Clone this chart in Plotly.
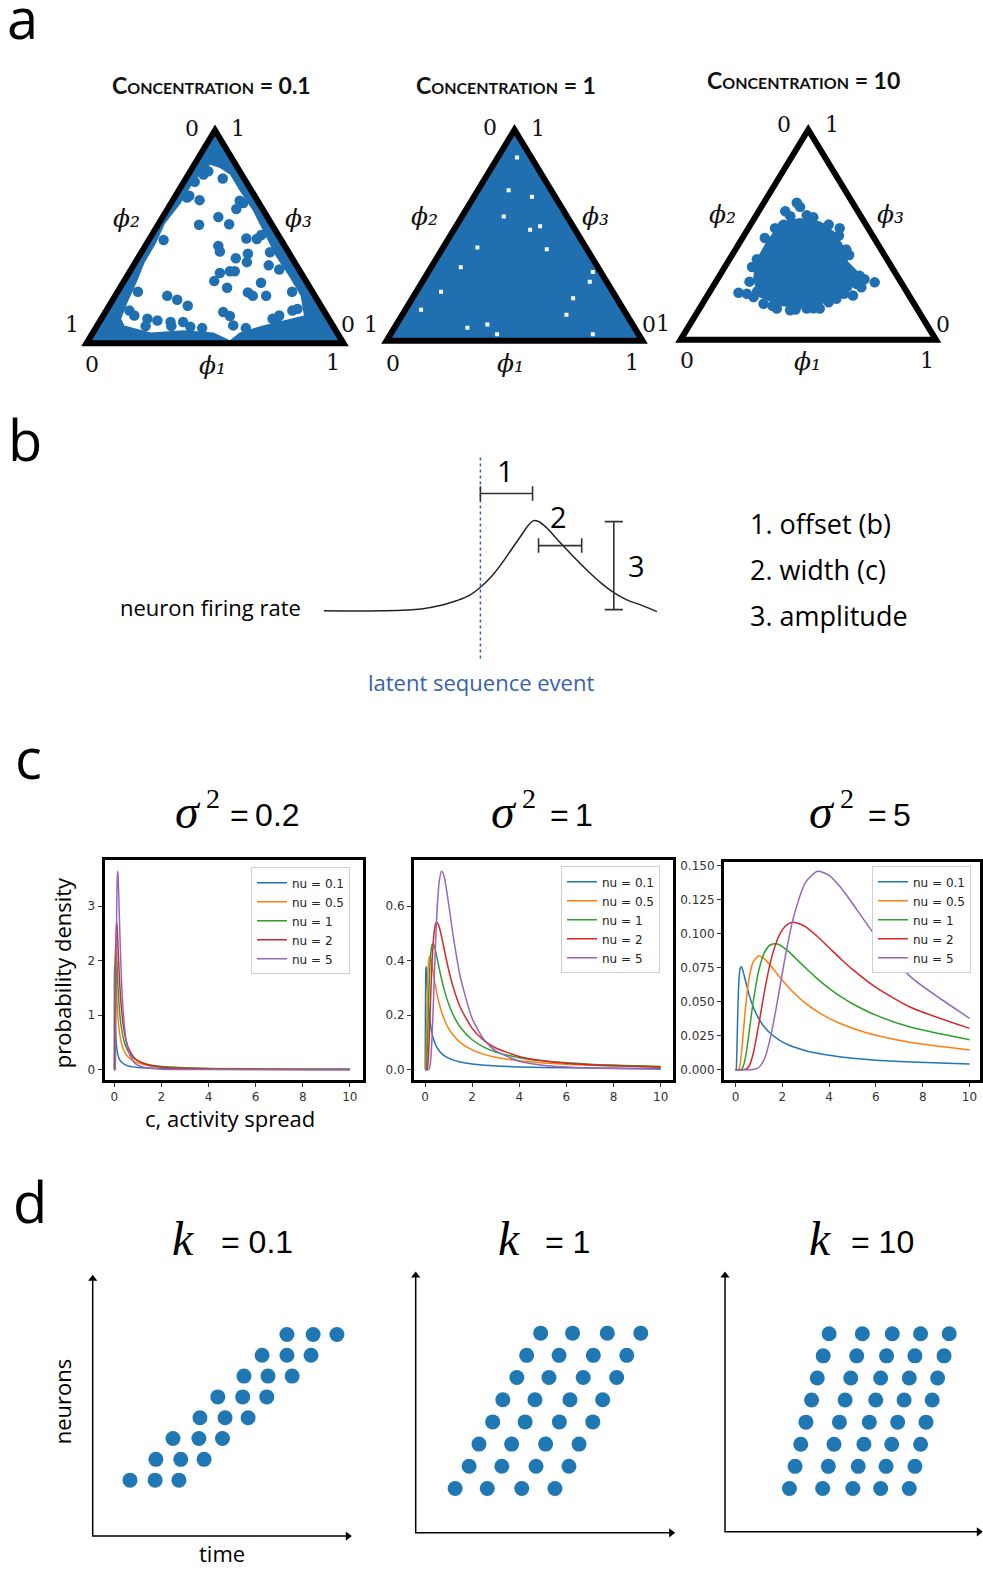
import plotly.graph_objects as go

W, H = 983, 1573

# ======================= DATA =======================
# (a) Dirichlet samples on the 2-simplex, in projected coordinates
#     x = phi1 + phi3/2 ,  y = phi3 * 0.866
SIMPLEX_X = [0.0, 1.0, 0.5]
SIMPLEX_Y = [0.0, 0.0, 0.866]
CONC_LABELS = ["0.1", "1", "10"]

# concentration = 0.1 : samples pile up along edges/corners; region left empty
conc01_empty_x = [0.147, 0.25, 0.378, 0.494, 0.558, 0.596, 0.686, 0.788, 0.846, 0.833, 0.788, 0.737, 0.699, 0.647,
                  0.596, 0.558, 0.519, 0.481, 0.442, 0.41, 0.365, 0.305, 0.27, 0.225, 0.195, 0.160, 0.135]
conc01_empty_y = [0.073, 0.044, 0.053, 0.044, 0.013, 0.044, 0.073, 0.100, 0.113, 0.193, 0.273, 0.353, 0.433, 0.540,
                  0.620, 0.686, 0.713, 0.726, 0.686, 0.646, 0.566, 0.486, 0.406, 0.326, 0.247, 0.167, 0.100]
conc01_x = [0.438, 0.513, 0.555, 0.583, 0.622, 0.663, 0.513, 0.519, 0.581, 0.628, 0.624, 0.709, 0.714, 0.519, 0.558,
            0.577, 0.497, 0.547, 0.628, 0.647, 0.314, 0.353, 0.394, 0.532, 0.558, 0.571, 0.376, 0.404, 0.440, 0.455,
            0.474, 0.421, 0.391, 0.596, 0.167, 0.186, 0.237, 0.276, 0.327, 0.724, 0.750, 0.801, 0.821, 0.679, 0.699,
            0.23, 0.33, 0.45, 0.62, 0.74, 0.80, 0.75, 0.68, 0.61, 0.20, 0.30, 0.40, 0.53]
conc01_y = [0.482, 0.513, 0.484, 0.546, 0.426, 0.424, 0.396, 0.373, 0.346, 0.364, 0.330, 0.317, 0.370, 0.286, 0.293,
            0.293, 0.253, 0.226, 0.207, 0.193, 0.193, 0.177, 0.153, 0.127, 0.111, 0.073, 0.087, 0.067, 0.582, 0.686,
            0.699, 0.657, 0.593, 0.580, 0.133, 0.113, 0.100, 0.093, 0.087, 0.100, 0.113, 0.133, 0.140, 0.246, 0.193,
            0.070, 0.070, 0.062, 0.062, 0.100, 0.210, 0.300, 0.440, 0.570, 0.210, 0.420, 0.600, 0.670]

# concentration = 1 : uniform coverage, small uncovered gaps
conc1_gap_x = [0.458, 0.568, 0.355, 0.135, 0.316, 0.806, 0.729, 0.561, 0.600, 0.703, 0.806, 0.290, 0.477, 0.394,
               0.626, 0.213, 0.794, 0.510, 0.432]
conc1_gap_y = [0.510, 0.591, 0.383, 0.128, 0.054, 0.282, 0.175, 0.456, 0.470, 0.107, 0.027, 0.302, 0.618, 0.067,
               0.376, 0.201, 0.242, 0.752, 0.027]

# concentration = 10 : samples clustered near the centre
conc10_core_x = [0.390, 0.468, 0.545, 0.597, 0.630, 0.649, 0.688, 0.662, 0.597, 0.532, 0.468, 0.390, 0.312, 0.292,
                 0.299, 0.338, 0.370]
conc10_core_y = [0.480, 0.494, 0.480, 0.440, 0.386, 0.318, 0.277, 0.210, 0.183, 0.142, 0.135, 0.149, 0.183, 0.250,
                 0.318, 0.392, 0.440]
conc10_x = [0.468, 0.494, 0.403, 0.623, 0.558, 0.351, 0.299, 0.227, 0.286, 0.325, 0.377, 0.429, 0.701, 0.760, 0.708,
            0.675, 0.610, 0.545, 0.494, 0.338, 0.649, 0.636, 0.43, 0.52, 0.37, 0.58, 0.33, 0.62, 0.66, 0.28, 0.27,
            0.30, 0.36, 0.45, 0.52, 0.58, 0.64, 0.69, 0.72, 0.26, 0.41, 0.455]
conc10_y = [0.548, 0.514, 0.474, 0.460, 0.460, 0.386, 0.332, 0.194, 0.176, 0.149, 0.129, 0.122, 0.264, 0.237, 0.217,
            0.183, 0.169, 0.129, 0.129, 0.345, 0.372, 0.291, 0.510, 0.505, 0.460, 0.475, 0.420, 0.430, 0.350, 0.300,
            0.240, 0.200, 0.140, 0.125, 0.130, 0.155, 0.190, 0.230, 0.250, 0.190, 0.530, 0.565]

# (b) neuron firing-rate response relative to the latent event
t_rel = [-7.8, -4.95, -2.95, -1.95, -1.2, -0.55, 0, 0.55, 1.05, 1.55, 2.05, 2.4, 2.65, 2.9, 3.3, 3.8, 4.3, 4.95,
         5.55, 6.05, 6.65, 7.3, 8.05, 8.8]
rate = [0, 0, 0.02, 0.06, 0.11, 0.17, 0.26, 0.38, 0.52, 0.68, 0.84, 0.95, 1.0, 0.99, 0.92, 0.80, 0.68, 0.53, 0.40,
        0.30, 0.20, 0.12, 0.06, -0.01]
event_t = 0.0
event_span = [-0.53, 1.71]
offset_span = [0.0, 2.60]      # bracket 1
offset_level = 1.30
width_span = [2.90, 5.05]      # bracket 2
width_level = 0.723
amp_t = 6.65                   # bracket 3
amp_span = [0.012, 0.989]
param_list = ["1. offset (b)", "2. width (c)", "3. amplitude"]

# (c) prior on c (activity spread) for several nu, three sigma^2 values
NU_LABELS = ["nu = 0.1", "nu = 0.5", "nu = 1", "nu = 2", "nu = 5"]
NU_COLORS = ["#1f77b4", "#ff7f0e", "#2ca02c", "#d62728", "#9467bd"]
SIGMA2_LABELS = ["0.2", "1", "5"]

c_s02 = [0, 0.002, 0.004, 0.006, 0.008, 0.01, 0.012, 0.016, 0.02, 0.03, 0.04, 0.05, 0.06, 0.08, 0.1, 0.12, 0.14,
         0.16, 0.2, 0.24, 0.3, 0.4, 0.5, 0.6, 0.8, 1.0, 1.4, 2, 4, 10]
pdf_s02 = [
    [0, 0.188, 1.104, 1.658, 1.861, 1.890, 1.844, 1.679, 1.505, 1.161, 0.933, 0.776, 0.663, 0.511, 0.415, 0.348,
     0.300, 0.263, 0.210, 0.175, 0.140, 0.104, 0.083, 0.069, 0.051, 0.040, 0.029, 0.020, 0.010, 0.004],
    [0, 0, 0.0005, 0.0188, 0.105, 0.278, 0.509, 1.0075, 1.423, 1.973, 2.089, 2.0295, 1.909, 1.641, 1.4065, 1.2175,
     1.0655, 0.943, 0.7595, 0.6305, 0.4975, 0.3618, 0.2805, 0.2273, 0.162, 0.124, 0.0826, 0.0535, 0.0228, 0.0073],
    [0, 0, 0, 0, 0.001, 0.008, 0.0325, 0.17, 0.425, 1.2245, 1.8305, 2.1595, 2.293, 2.259, 2.0755, 1.8655, 1.667,
     1.492, 1.21, 1.0, 0.778, 0.549, 0.413, 0.325, 0.22, 0.1614, 0.1003, 0.06, 0.0218, 0.0057],
    [0, 0, 0, 0, 0, 0, 0, 0.003, 0.0225, 0.283, 0.842, 1.465, 1.9815, 2.565, 2.7065, 2.6235, 2.446, 2.2385, 1.8395,
     1.509, 1.141, 0.758, 0.5365, 0.398, 0.2435, 0.1638, 0.0885, 0.0453, 0.0119, 0.002],
    [0, 0, 0, 0, 0, 0, 0, 0, 0, 0.0015, 0.039, 0.216, 0.6035, 1.772, 2.8335, 3.4435, 3.6415, 3.567, 3.051, 2.445,
     1.6985, 0.9415, 0.554, 0.3455, 0.155, 0.0807, 0.0287, 0.0092, 0.0009, 0],
]

c_s1 = [0, 0.005, 0.01, 0.02, 0.03, 0.04, 0.05, 0.06, 0.08, 0.1, 0.12, 0.15, 0.2, 0.25, 0.3, 0.35, 0.4, 0.45, 0.5,
        0.6, 0.7, 0.8, 0.9, 1, 1.2, 1.5, 2, 2.5, 3, 4, 5, 7, 10]
pdf_s1 = [
    [0, 0.0005, 0.0375, 0.2207, 0.3316, 0.3721, 0.3779, 0.3688, 0.3357, 0.3009, 0.2701, 0.2322, 0.1866, 0.1552,
     0.1325, 0.1154, 0.1021, 0.0915, 0.0829, 0.0696, 0.0599, 0.0525, 0.0467, 0.0421, 0.0350, 0.0279, 0.0208, 0.0166,
     0.0137, 0.0102, 0.0081, 0.0057, 0.0039],
    [0, 0, 0, 0.0001, 0.0038, 0.0210, 0.0556, 0.1018, 0.2015, 0.2846, 0.3438, 0.3946, 0.4178, 0.4059, 0.3818,
     0.3547, 0.3282, 0.3036, 0.2813, 0.2435, 0.2131, 0.1886, 0.1685, 0.1519, 0.1261, 0.0995, 0.0724, 0.0561, 0.0455,
     0.0324, 0.0248, 0.0165, 0.0107],
    [0, 0, 0, 0, 0, 0.0002, 0.0016, 0.0065, 0.0340, 0.0850, 0.1488, 0.2449, 0.3661, 0.4319, 0.4586, 0.4618, 0.4518,
     0.4351, 0.4151, 0.3731, 0.3334, 0.2984, 0.2681, 0.2420, 0.2000, 0.1556, 0.1098, 0.0826, 0.0650, 0.0440, 0.0323,
     0.0201, 0.0120],
    [0, 0, 0, 0, 0, 0, 0, 0, 0.0006, 0.0045, 0.0167, 0.0566, 0.1684, 0.2930, 0.3963, 0.4688, 0.5130, 0.5353,
     0.5413, 0.5247, 0.4892, 0.4477, 0.4064, 0.3679, 0.3018, 0.2282, 0.1516, 0.1073, 0.0796, 0.0487, 0.0328, 0.0177,
     0.0091],
    [0, 0, 0, 0, 0, 0, 0, 0, 0, 0, 0, 0.0003, 0.0078, 0.0432, 0.1207, 0.2314, 0.3544, 0.4702, 0.5667, 0.6887,
     0.7283, 0.7134, 0.6684, 0.6102, 0.4890, 0.3397, 0.1883, 0.1108, 0.0691, 0.0310, 0.0161, 0.0057, 0.0018],
]

c_s5 = [0, 0.025, 0.05, 0.1, 0.15, 0.2, 0.25, 0.3, 0.4, 0.5, 0.6, 0.75, 1, 1.25, 1.5, 1.75, 2, 2.25, 2.5, 3, 3.5, 4,
        4.5, 5, 6, 7.5, 10]
pdf_s5 = [
    [0, 0.0001, 0.0075, 0.0441, 0.0663, 0.0744, 0.0756, 0.0738, 0.0671, 0.0602, 0.0540, 0.0464, 0.0373, 0.0310,
     0.0265, 0.0231, 0.0204, 0.0183, 0.0166, 0.0139, 0.0120, 0.0105, 0.0093, 0.0084, 0.0070, 0.0056, 0.0042],
    [0, 0, 0, 0.00002, 0.00075, 0.0042, 0.0111, 0.0204, 0.0403, 0.0569, 0.0688, 0.0789, 0.0836, 0.0812, 0.0764,
     0.0709, 0.0656, 0.0607, 0.0563, 0.0487, 0.0426, 0.0377, 0.0337, 0.0304, 0.0252, 0.0199, 0.0145],
    [0, 0, 0, 0, 0, 0.00004, 0.0003, 0.0013, 0.0068, 0.0170, 0.0298, 0.0490, 0.0732, 0.0864, 0.0917, 0.0924, 0.0904,
     0.0870, 0.0830, 0.0746, 0.0667, 0.0597, 0.0536, 0.0484, 0.0400, 0.0311, 0.0220],
    [0, 0, 0, 0, 0, 0, 0, 0, 0.0001, 0.0009, 0.0033, 0.0113, 0.0337, 0.0586, 0.0793, 0.0938, 0.1026, 0.1071, 0.1083,
     0.1049, 0.0978, 0.0895, 0.0813, 0.0736, 0.0604, 0.0456, 0.0303],
    [0, 0, 0, 0, 0, 0, 0, 0, 0, 0, 0, 0.0001, 0.0016, 0.0086, 0.0241, 0.0463, 0.0709, 0.0940, 0.1133, 0.1377, 0.1457,
     0.1427, 0.1337, 0.1220, 0.0978, 0.0679, 0.0377],
]

# (d) sequence spike patterns (time, neuron) for three k values
K_LABELS = ["0.1", "1", "10"]
k01_time = [14.4, 24.1, 33.3, 24.4, 34.0, 43.0, 31.0, 41.0, 50.1, 41.4, 51.1, 60.0, 48.3, 57.9, 67.2, 58.4, 67.7,
            77.0, 65.4, 75.0, 84.3, 75.0, 85.1, 94.3]
k01_neuron = [1, 1, 1, 2, 2, 2, 3, 3, 3, 4, 4, 4, 5, 5, 5, 6, 6, 6, 7, 7, 7, 8, 8, 8]
k1_time = [15.2, 27.6, 40.9, 53.7, 20.6, 33.2, 46.4, 59.1, 24.4, 37.0, 50.1, 63.0, 29.7, 42.2, 55.4, 68.3, 33.6, 46.0,
           59.5, 72.1, 39.0, 51.4, 64.6, 77.5, 42.8, 55.3, 68.5, 81.4, 48.2, 60.5, 73.9, 86.8]
k1_neuron = [1, 1, 1, 1, 2, 2, 2, 2, 3, 3, 3, 3, 4, 4, 4, 4, 5, 5, 5, 5, 6, 6, 6, 6, 7, 7, 7, 7, 8, 8, 8, 8]
k10_time = [25.0, 37.9, 49.6, 60.4, 71.5, 27.2, 40.1, 51.7, 62.5, 73.7, 29.4, 42.3, 53.9, 64.7, 75.9, 31.4, 44.4,
            56.0, 67.0, 78.0, 33.6, 46.6, 58.5, 69.5, 80.4, 35.8, 48.8, 60.4, 71.5, 82.5, 38.1, 51.1, 62.7, 73.7,
            85.0, 40.4, 53.3, 64.9, 75.9, 87.0]
k10_neuron = [1] * 5 + [2] * 5 + [3] * 5 + [4] * 5 + [5] * 5 + [6] * 5 + [7] * 5 + [8] * 5

# ======================= STYLE / LAYOUT =======================
BLUE_A = "#1f6fb1"
BLUE_D = "#1f77b4"
SANS = "Open Sans, DejaVu Sans, sans-serif"
SERIF = "DejaVu Serif, serif"
MATH = "Liberation Serif, DejaVu Serif, serif"
NARROW = "Liberation Sans Narrow, Liberation Sans, sans-serif"


def lin(v0, p0, v1, p1, p):
    return v0 + (p - p0) * (v1 - v0) / (p1 - p0)


layout = dict(width=W, height=H, margin=dict(l=0, r=0, t=0, b=0), paper_bgcolor="white",
              plot_bgcolor="rgba(0,0,0,0)", showlegend=True)

HIDDEN = dict(visible=False, showgrid=False, zeroline=False, fixedrange=True)


def set_axes(i, xdom, ydom, xmap, ymap, xextra=None, yextra=None):
    s = "" if i == 1 else str(i)
    xa = dict(HIDDEN)
    ya = dict(HIDDEN)
    if xextra:
        xa.update(xextra)
    if yextra:
        ya.update(yextra)
    xa.update(domain=[xdom[0] / W, xdom[1] / W], range=[lin(*xmap, xdom[0]), lin(*xmap, xdom[1])], anchor="y" + s)
    ya.update(domain=[1 - ydom[1] / H, 1 - ydom[0] / H], range=[lin(*ymap, ydom[1]), lin(*ymap, ydom[0])],
              anchor="x" + s)
    layout["xaxis" + s] = xa
    layout["yaxis" + s] = ya
    return ("x" + s, "y" + s)


# panel a: triangles
ax_a = [
    set_axes(1, (60, 372), (100, 362), (0, 86.5, 1, 343.5), (0, 341, 0.866, 127.5)),
    set_axes(2, (360, 668), (100, 362), (0, 386.5, 1, 642.5), (0, 338.5, 0.866, 127)),
    set_axes(3, (655, 965), (100, 362), (0, 680.5, 1, 936), (0, 337.5, 0.866, 127)),
]
# panel b
ax_b = set_axes(4, (305, 680), (440, 665), (0, 480.4, 1, 500.46), (0, 608.9, 1, 518.6))

# panel c
FRAME = dict(visible=True, showline=True, linewidth=3, linecolor="black", mirror=True, showgrid=False,
             zeroline=False, ticks="outside", ticklen=4, tickwidth=1, tickcolor="#333",
             tickfont=dict(family="DejaVu Sans", size=12, color="#333"))
xt = dict(FRAME, tickvals=[0, 2, 4, 6, 8, 10])
ax_c = [
    set_axes(5, (104.5, 363), (858.5, 1079), (0, 114.3, 10, 349.8), (0, 1068.7, 3, 905),
             xt, dict(FRAME, tickvals=[0, 1, 2, 3])),
    set_axes(6, (414, 672.5), (858.5, 1079), (0, 425, 10, 660.7), (0, 1068.7, 0.6, 905),
             xt, dict(FRAME, tickvals=[0, 0.2, 0.4, 0.6], tickformat=".1f")),
    set_axes(7, (724, 980), (860.5, 1079), (0, 735.5, 10, 969.5), (0, 1068.7, 0.15, 864),
             xt, dict(FRAME, tickvals=[0, 0.025, 0.05, 0.075, 0.1, 0.125, 0.15], tickformat=".3f")),
]
# panel d
ax_d = [
    set_axes(8, (75, 365), (1262, 1548), (0, 92.7, 100, 351.7), (1, 1480, 8, 1334)),
    set_axes(9, (398, 690), (1262, 1548), (0, 415.7, 100, 675), (1, 1488.3, 8, 1332.7)),
    set_axes(10, (708, 983), (1262, 1548), (0, 725, 100, 982.7), (1, 1488.3, 8, 1333.3)),
]
d_origin_n = [-1.685, -0.997, -0.960]
d_top_n = [10.83, 10.744, 10.783]
d_time_end = 100

fig = go.Figure()
closed_x = SIMPLEX_X + [SIMPLEX_X[0]]
closed_y = SIMPLEX_Y + [SIMPLEX_Y[0]]
NOLINE = dict(width=0)

# ---- a: concentration 0.1
xa, ya = ax_a[0]
fig.add_trace(go.Scatter(x=closed_x, y=closed_y, fill="toself", fillcolor=BLUE_A, mode="lines", line=NOLINE,
                         xaxis=xa, yaxis=ya, showlegend=False, hoverinfo="skip"))
fig.add_trace(go.Scatter(x=conc01_empty_x + [conc01_empty_x[0]], y=conc01_empty_y + [conc01_empty_y[0]],
                         fill="toself", fillcolor="white", mode="lines", line=NOLINE,
                         xaxis=xa, yaxis=ya, showlegend=False, hoverinfo="skip"))
fig.add_trace(go.Scatter(x=conc01_x, y=conc01_y, mode="markers", marker=dict(size=10.5, color=BLUE_A, line=NOLINE),
                         xaxis=xa, yaxis=ya, showlegend=False))
# ---- a: concentration 1
xa, ya = ax_a[1]
fig.add_trace(go.Scatter(x=closed_x, y=closed_y, fill="toself", fillcolor=BLUE_A, mode="lines", line=NOLINE,
                         xaxis=xa, yaxis=ya, showlegend=False, hoverinfo="skip"))
fig.add_trace(go.Scatter(x=conc1_gap_x, y=conc1_gap_y, mode="markers",
                         marker=dict(size=4, color="white", symbol="square", line=NOLINE),
                         xaxis=xa, yaxis=ya, showlegend=False))
# ---- a: concentration 10
xa, ya = ax_a[2]
fig.add_trace(go.Scatter(x=conc10_core_x + [conc10_core_x[0]], y=conc10_core_y + [conc10_core_y[0]], fill="toself",
                         fillcolor=BLUE_A, mode="lines", line=dict(width=4, color=BLUE_A),
                         xaxis=xa, yaxis=ya, showlegend=False, hoverinfo="skip"))
fig.add_trace(go.Scatter(x=conc10_x, y=conc10_y, mode="markers", marker=dict(size=10.5, color=BLUE_A, line=NOLINE),
                         xaxis=xa, yaxis=ya, showlegend=False))

shapes = []
tri_path = "M {} {} L {} {} L {} {} Z".format(SIMPLEX_X[0], SIMPLEX_Y[0], SIMPLEX_X[1], SIMPLEX_Y[1],
                                               SIMPLEX_X[2], SIMPLEX_Y[2])
for xa, ya in ax_a:
    shapes.append(dict(type="path", path=tri_path, xref=xa, yref=ya, line=dict(color="black", width=6),
                       layer="above"))

# ---- b
xa, ya = ax_b
fig.add_trace(go.Scatter(x=t_rel, y=rate, mode="lines", line=dict(color="#222", width=1.5, shape="spline"),
                         xaxis=xa, yaxis=ya, showlegend=False))
fig.add_trace(go.Scatter(x=[event_t, event_t], y=event_span, mode="lines",
                         line=dict(color="#2f62b5", width=1.5, dash="dot"), xaxis=xa, yaxis=ya, showlegend=False))
hc = 0.08
bx = [offset_span[0], offset_span[1], None, offset_span[0], offset_span[0], None, offset_span[1], offset_span[1],
      None, width_span[0], width_span[1], None, width_span[0], width_span[0], None, width_span[1], width_span[1],
      None, amp_t, amp_t, None, amp_t - 0.45, amp_t + 0.45, None, amp_t - 0.45, amp_t + 0.45]
by = [offset_level, offset_level, None, offset_level - hc, offset_level + hc, None, offset_level - hc,
      offset_level + hc, None, width_level, width_level, None, width_level - hc, width_level + hc, None,
      width_level - hc, width_level + hc, None, amp_span[0], amp_span[1], None, amp_span[0], amp_span[0], None,
      amp_span[1], amp_span[1]]
fig.add_trace(go.Scatter(x=bx, y=by, mode="lines", line=dict(color="#333", width=1.6), xaxis=xa, yaxis=ya,
                         showlegend=False, connectgaps=False))

# ---- c
c_sets = [(c_s02, pdf_s02), (c_s1, pdf_s1), (c_s5, pdf_s5)]
legend_names = ["legend", "legend2", "legend3"]
for k, ((xa, ya), (cx, pdfs)) in enumerate(zip(ax_c, c_sets)):
    for j in range(5):
        fig.add_trace(go.Scatter(x=cx, y=pdfs[j], mode="lines", name=NU_LABELS[j],
                                 line=dict(color=NU_COLORS[j], width=1.5, shape="spline", smoothing=0.6),
                                 xaxis=xa, yaxis=ya, legend=legend_names[k]))

LEG = dict(xanchor="left", yanchor="top", bgcolor="white", bordercolor="#cfcfcf", borderwidth=1,
           font=dict(family="DejaVu Sans", size=12, color="#222"), itemwidth=30, tracegroupgap=0)
layout["legend"] = dict(LEG, x=251 / W, y=1 - 866 / H)
layout["legend2"] = dict(LEG, x=561 / W, y=1 - 865 / H)
layout["legend3"] = dict(LEG, x=872 / W, y=1 - 865 / H)

# ---- d
d_sets = [(k01_time, k01_neuron), (k1_time, k1_neuron), (k10_time, k10_neuron)]
for i, ((xa, ya), (tt, nn)) in enumerate(zip(ax_d, d_sets)):
    fig.add_trace(go.Scatter(x=tt, y=nn, mode="markers", marker=dict(size=15, color=BLUE_D, line=NOLINE),
                             xaxis=xa, yaxis=ya, showlegend=False))
    o = d_origin_n[i]
    top = d_top_n[i]
    # axis arrows (time to the right, neurons upward)
    fig.add_trace(go.Scatter(x=[d_time_end - 1.5, 0, 0], y=[o, o, top - 0.15], mode="lines",
                             line=dict(color="black", width=1.5), xaxis=xa, yaxis=ya, showlegend=False,
                             cliponaxis=False, hoverinfo="skip"))
    fig.add_trace(go.Scatter(x=[d_time_end - 1.5], y=[o], mode="markers",
                             marker=dict(symbol="triangle-right", size=8, color="black", line=NOLINE),
                             xaxis=xa, yaxis=ya, showlegend=False, cliponaxis=False, hoverinfo="skip"))
    fig.add_trace(go.Scatter(x=[0], y=[top - 0.15], mode="markers",
                             marker=dict(symbol="triangle-up", size=8, color="black", line=NOLINE),
                             xaxis=xa, yaxis=ya, showlegend=False, cliponaxis=False, hoverinfo="skip"))


def T(text, x, y, size, family=SANS, color="black", xa="center", ya="middle", angle=0, **fontkw):
    f = dict(size=size, family=family, color=color)
    f.update(fontkw)
    return dict(text=text, x=x / W, y=1 - y / H, xref="paper", yref="paper", xanchor=xa, yanchor=ya,
                showarrow=False, textangle=angle, font=f)


annotations = []
# panel letters
annotations += [T("a", 22, 14, 56), T("b", 25, 437, 56), T("c", 28, 755, 56), T("d", 30, 1200, 56)]

# panel a titles and vertex labels
conc_title_pos = [(211, 82), (506, 82), (803, 77)]
for lab, (x, y) in zip(CONC_LABELS, conc_title_pos):
    annotations.append(T("Concentration = " + lab, x, y, 23, family="Lato, Open Sans, sans-serif",
                         color="#111", variant="small-caps", weight="bold"))

vertex_labels = [
    [("0", 191.7, 126), ("1", 238.3, 126), ("1", 71.7, 322), ("0", 348.3, 322), ("0", 91.7, 362), ("1", 333.3, 360)],
    [("0", 490, 125), ("1", 538.3, 126), ("1", 370.5, 322), ("0", 648.5, 322), ("0", 393.3, 361), ("1", 632, 360)],
    [("0", 784, 122), ("1", 831.7, 122), ("1", 662.5, 321), ("0", 943.3, 322), ("0", 686.7, 358), ("1", 926.7, 358)],
]
SUBS = {1: "\u2081", 2: "\u2082", 3: "\u2083"}
phi_labels = [
    [(2, 126, 216), (3, 298, 216), (1, 212, 363)],
    [(2, 424, 214), (3, 595, 214), (1, 510, 361)],
    [(2, 722, 212), (3, 890, 212), (1, 807, 359)],
]
for vl in vertex_labels:
    for t, x, y in vl:
        annotations.append(T(t, x, y, 22, family=SERIF, color="#111"))
for pl in phi_labels:
    for k, x, y in pl:
        annotations.append(T("\u03d5" + SUBS[k], x, y, 25, family=SERIF, color="#111", style="italic"))

# panel b text
annotations.append(T("neuron firing rate", 303, 605, 22, xa="right"))
annotations.append(T("latent sequence event", 481, 680, 22, color="#3563ad"))
for k, (s, y) in enumerate(zip(param_list, [521, 568, 614])):
    annotations.append(T(s, 748, y, 27, xa="left"))
annotations += [T("1", 505.5, 468, 29), T("2", 558.7, 514, 29), T("3", 636, 564, 29)]

# panel c titles and labels
sig_pos = [(188, 228), (504, 548), (822, 866)]
for lab, (xs, xe) in zip(SIGMA2_LABELS, sig_pos):
    annotations.append(T("\u03c3", xs, 810, 48, family=MATH, style="italic"))
    annotations.append(T("2", xs + 25, 797, 28, family=MATH))
    annotations.append(T("=\u2009" + lab, xe, 814, 32, family=NARROW, xa="left"))
annotations.append(T("probability density", 62, 971, 22, angle=-90))
annotations.append(T("c, activity spread", 230, 1117, 22))

# panel d titles and labels
k_pos = [(183.5, 219), (509.5, 543), (820.5, 849)]
for lab, (xs, xe) in zip(K_LABELS, k_pos):
    annotations.append(T("k", xs, 1238, 48, family=MATH, style="italic"))
    annotations.append(T("= " + lab, xe, 1241, 32, family=NARROW, xa="left"))
annotations.append(T("neurons", 62, 1401, 22, angle=-90))
annotations.append(T("time", 222, 1553, 22))

layout["annotations"] = annotations
layout["shapes"] = shapes
fig.update_layout(**layout)
fig.write_html("out.html", config={"displayModeBar": False},
               post_script="document.body.style.margin='0px';document.body.style.overflow='hidden';")
